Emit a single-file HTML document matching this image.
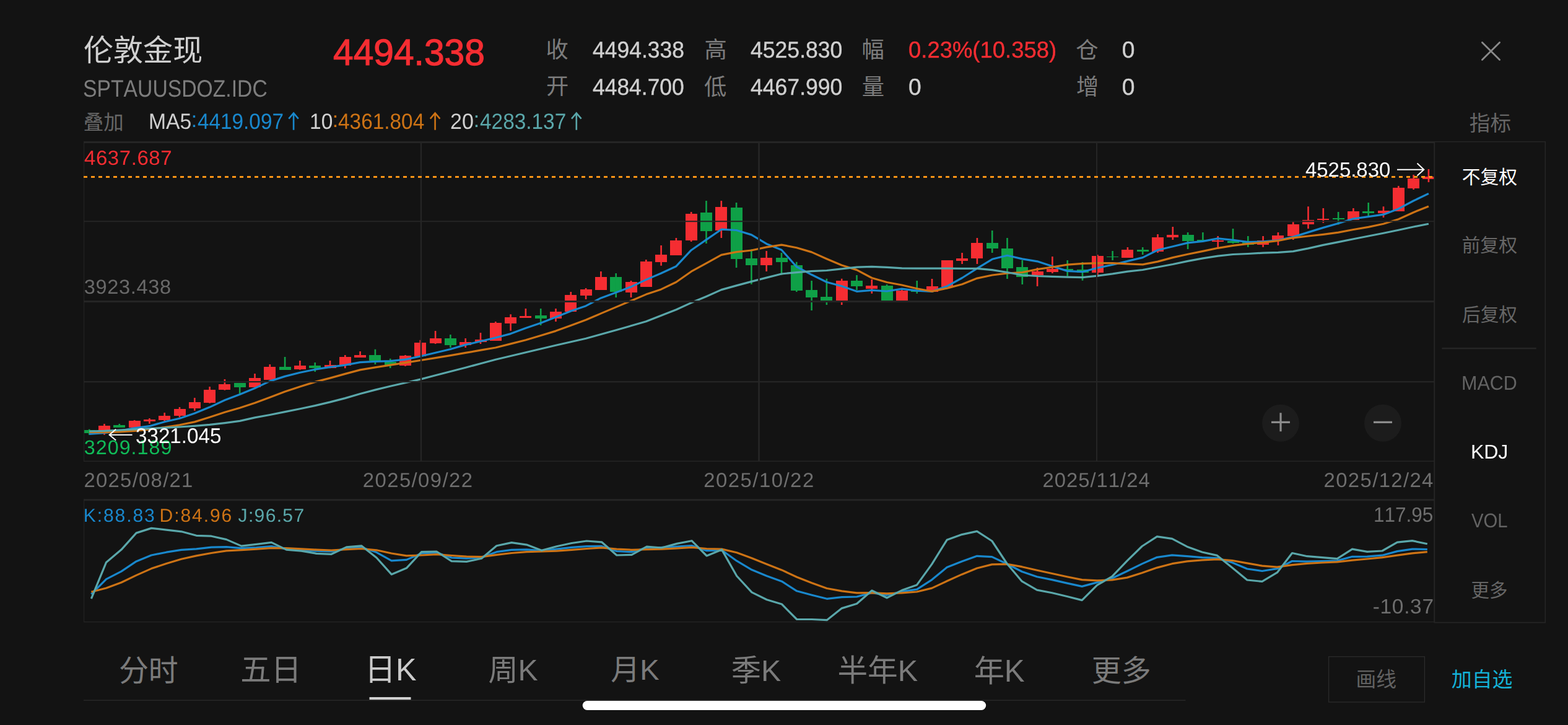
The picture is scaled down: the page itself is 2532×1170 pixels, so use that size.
<!DOCTYPE html>
<html lang="zh"><head><meta charset="utf-8"><title>伦敦金现 SPTAUUSDOZ.IDC</title>
<style>
html,body{margin:0;padding:0;background:#131313}
body{width:2532px;height:1170px;position:relative;overflow:hidden;font-family:"Liberation Sans",sans-serif}
.t{position:absolute;white-space:nowrap;line-height:1;text-rendering:geometricPrecision;font-kerning:none;transform-origin:0 0}
#tx{position:absolute;left:0;top:0;width:2532px;height:1170px;will-change:transform}
svg{position:absolute;left:0;top:0}
svg text{font-family:"Liberation Sans","Noto Sans CJK SC",sans-serif}
</style></head><body>
<svg width="2532" height="1170" viewBox="0 0 2532 1170">
<defs><clipPath id="cc"><rect x="135" y="231" width="2181" height="513"/></clipPath></defs>
<g clip-path="url(#cc)">
<path d="M159 687h19v11.6h-19zM207.6 678.7h19v11.6h-19zM231.9 677h19v3.3h-19zM256.2 671h19v7h-19zM280.5 660h19v11h-19zM304.8 649h19v9.8h-19zM329.1 628.7h19v21.2h-19zM353.4 620h19v9h-19zM402 610h19v14.9h-19zM426.3 592h19v21h-19zM474.9 590h19v5.9h-19zM523.5 588.8h19v5.4h-19zM547.8 575.9h19v13.8h-19zM572.1 573h19v3.9h-19zM645 574h19v16h-19zM669.3 552.8h19v22.2h-19zM693.6 545.9h19v7.9h-19zM742.2 552h19v5h-19zM766.5 548h19v4h-19zM790.8 520.9h19v29h-19zM815.1 511.9h19v10h-19zM839.4 510.1h19v2.8h-19zM888 503.1h19v10.9h-19zM912.3 475.8h19v27.3h-19zM936.6 467h19v10h-19zM960.9 446.9h19v21.2h-19zM1009.5 454.9h19v17h-19zM1033.8 421.9h19v41h-19zM1058.1 410.9h19v11.9h-19zM1082.4 388.1h19v24h-19zM1106.7 345h19v43.1h-19zM1155.3 333.9h19v38h-19zM1228.2 416h19v12h-19zM1349.7 453.2h19v31.5h-19zM1398.3 461h19v5h-19zM1446.9 469h19v16h-19zM1495.5 461.9h19v9h-19zM1519.8 419.9h19v42.7h-19zM1544.1 417h19v3.9h-19zM1568.4 392h19v25h-19zM1665.6 438h19v6h-19zM1689.9 434h19v5h-19zM1762.8 413h19v27h-19zM1811.4 402.8h19v13.1h-19zM1860 383h19v23h-19zM1884.3 378.8h19v4.2h-19zM1957.2 388h19v2h-19zM2030.1 388.3h19v6.4h-19zM2054.4 380h19v8.3h-19zM2078.7 361.9h19v19.1h-19zM2103 355h19v6.9h-19zM2127.3 353h19v2h-19zM2175.9 341.1h19v13.9h-19zM2224.5 340h19v4.1h-19zM2248.8 303.1h19v38h-19zM2273.1 288h19v16h-19zM2297.4 285h19v4h-19z" fill="#f52d32" shape-rendering="crispEdges"/>
<path d="M134.7 693.8h19v5.2h-19zM183.3 686.2h19v3.8h-19zM377.7 618h19v6.9h-19zM450.6 591.9h19v4.9h-19zM499.2 590h19v4.2h-19zM596.4 573h19v9h-19zM620.7 584h19v5.1h-19zM717.9 545.9h19v10.9h-19zM863.7 509.1h19v4.9h-19zM985.2 446.9h19v24h-19zM1131 343h19v29.9h-19zM1179.6 335.1h19v82.9h-19zM1203.9 417h19v11h-19zM1252.5 416h19v6.8h-19zM1276.8 428h19v41h-19zM1301.1 468.1h19v11.6h-19zM1325.4 479.2h19v5.5h-19zM1374 452.9h19v9h-19zM1422.6 461h19v24h-19zM1471.2 468h19v2.5h-19zM1592.7 392h19v9h-19zM1617 401h19v32h-19zM1641.3 430.9h19v16h-19zM1714.2 434h19v1.6h-19zM1738.5 435h19v5h-19zM1787.1 413.7h19v1.6h-19zM1835.7 402.8h19v3.2h-19zM1908.6 378.8h19v10.2h-19zM1932.9 387h19v2h-19zM1981.5 389.2h19v2.8h-19zM2005.8 391.3h19v3.4h-19zM2151.6 352h19v2.1h-19zM2200.2 341.1h19v3h-19z" fill="#0fa047" shape-rendering="crispEdges"/>
<path d="M167.2 684h2.6v17.8h-2.6zM215.8 678h2.6v14.8h-2.6zM240.1 675h2.6v8.8h-2.6zM264.4 666h2.6v13.4h-2.6zM288.7 657h2.6v16.6h-2.6zM313 642h2.6v20.7h-2.6zM337.3 624h2.6v26.8h-2.6zM361.6 612h2.6v17.7h-2.6zM410.2 603h2.6v21.9h-2.6zM434.5 588h2.6v25h-2.6zM483.1 582h2.6v14.8h-2.6zM531.7 582h2.6v12.2h-2.6zM556 573h2.6v21.2h-2.6zM580.3 566.9h2.6v10h-2.6zM653.2 573h2.6v18h-2.6zM677.5 548.7h2.6v26.3h-2.6zM701.8 534h2.6v20.9h-2.6zM750.4 545.9h2.6v15h-2.6zM774.7 537h2.6v17.9h-2.6zM799 519h2.6v30.9h-2.6zM823.3 507.2h2.6v26.6h-2.6zM847.6 498h2.6v14.9h-2.6zM896.2 498h2.6v21h-2.6zM920.5 471h2.6v32.1h-2.6zM944.8 464.9h2.6v18.1h-2.6zM969.1 438h2.6v30.1h-2.6zM1017.7 453h2.6v27h-2.6zM1042 419h2.6v43.9h-2.6zM1066.3 396h2.6v32.8h-2.6zM1090.6 384h2.6v28.1h-2.6zM1114.9 342h2.6v48h-2.6zM1163.5 324h2.6v60h-2.6zM1236.4 404.9h2.6v33h-2.6zM1357.9 449.8h2.6v42.2h-2.6zM1406.5 451h2.6v22.8h-2.6zM1455.1 468h2.6v17h-2.6zM1503.7 450h2.6v20.9h-2.6zM1528 419.9h2.6v42.7h-2.6zM1552.3 408h2.6v18h-2.6zM1576.6 384h2.6v42h-2.6zM1673.8 432h2.6v29.9h-2.6zM1698.1 414h2.6v26.9h-2.6zM1771 410.9h2.6v35.9h-2.6zM1819.6 399h2.6v16.9h-2.6zM1868.2 378h2.6v30h-2.6zM1892.5 366h2.6v21h-2.6zM1965.4 381h2.6v18h-2.6zM2038.3 381h2.6v17.8h-2.6zM2062.6 375.1h2.6v20.9h-2.6zM2086.9 358.2h2.6v28.7h-2.6zM2111.2 333.2h2.6v35.9h-2.6zM2135.5 335.9h2.6v23.9h-2.6zM2184.1 335.9h2.6v19.1h-2.6zM2232.7 333.2h2.6v17.7h-2.6zM2257 300.1h2.6v41h-2.6zM2281.3 281.9h2.6v24.2h-2.6zM2305.6 273h2.6v20.9h-2.6z" fill="#f52d32"/>
<path d="M142.9 692.8h2.6v9h-2.6zM191.5 684h2.6v6h-2.6zM385.9 618h2.6v17h-2.6zM458.8 575.9h2.6v20.9h-2.6zM507.4 584.9h2.6v15.1h-2.6zM604.6 563.8h2.6v24.2h-2.6zM628.9 578.8h2.6v15.2h-2.6zM726.1 540h2.6v20.9h-2.6zM871.9 498h2.6v26.9h-2.6zM993.4 440.9h2.6v39.1h-2.6zM1139.2 324h2.6v68.9h-2.6zM1187.8 327.1h2.6v104.8h-2.6zM1212.1 402.3h2.6v56.4h-2.6zM1260.7 408h2.6v35.8h-2.6zM1285 422.8h2.6v48.2h-2.6zM1309.3 453.1h2.6v47.8h-2.6zM1333.6 449.8h2.6v42.2h-2.6zM1382.2 444h2.6v24.3h-2.6zM1430.8 459h2.6v26h-2.6zM1479.4 453h2.6v20.8h-2.6zM1600.9 371.9h2.6v36.1h-2.6zM1625.2 384h2.6v66h-2.6zM1649.5 419.9h2.6v39.1h-2.6zM1722.4 420h2.6v25.8h-2.6zM1746.7 423h2.6v29.8h-2.6zM1795.3 405h2.6v14.9h-2.6zM1843.9 399h2.6v11.9h-2.6zM1916.8 374.9h2.6v27h-2.6zM1941.1 374.9h2.6v14.1h-2.6zM1989.7 369.1h2.6v23.8h-2.6zM2014 381h2.6v17.8h-2.6zM2159.8 342h2.6v20.6h-2.6zM2208.4 327h2.6v20.9h-2.6z" fill="#0fa047"/>
<polyline points="144.2,700.5 168.5,698.6 192.8,695.4 217.1,690.9 241.4,687.7 265.7,680.7 290,675.3 314.3,667.1 338.6,657.1 362.9,645.7 387.2,636.5 411.5,626.5 435.8,615.1 460.1,607.4 484.4,601.3 508.7,596.2 533,592.3 557.3,589.1 581.6,584.6 605.9,583.3 630.2,582.7 654.5,580.1 678.8,575 703.1,569.2 727.4,563.5 751.7,556.4 776,550.8 800.3,545 824.6,538.6 848.9,529.6 873.2,521.3 897.5,511.7 921.8,502 946.1,493.7 970.4,480.9 994.7,471.9 1019,462.9 1043.3,451.4 1067.6,441 1091.9,429.7 1116.2,403.7 1140.5,386.9 1164.8,370.2 1189.1,371.5 1213.4,378.9 1237.7,393.4 1262,403.2 1286.3,430.5 1310.6,443.3 1334.9,455.3 1359.2,461.7 1383.5,470.3 1407.8,468.3 1432.1,470 1456.4,466.2 1480.7,469.2 1505,470.5 1529.3,461.9 1553.6,448.5 1577.9,433.1 1602.2,418.3 1626.5,412.3 1650.8,417.9 1675.1,421.8 1699.4,429.7 1723.7,437.4 1748,438.7 1772.3,432.3 1796.6,427.2 1820.9,421.4 1845.2,415.6 1869.5,403.5 1893.8,397.7 1918.1,391.9 1942.4,389.4 1966.7,384.9 1991,387.3 2015.3,390.6 2039.6,389.9 2063.9,387.9 2088.2,382.4 2112.5,374.9 2136.8,367.4 2161.1,360.5 2185.4,353 2209.7,349.6 2234,346.2 2258.3,336.9 2282.6,324 2306.9,312.4" fill="none" stroke="#1988cd" stroke-width="3.2" stroke-linejoin="round" stroke-linecap="butt"/>
<polyline points="144.2,697.3 168.5,697.7 192.8,696.9 217.1,695.4 241.4,692.8 265.7,689.6 290,685.8 314.3,680.9 338.6,673.2 362.9,665.3 387.2,658.2 411.5,650.3 435.8,641.3 460.1,632 484.4,624 508.7,616.4 533,610.1 557.3,603.4 581.6,596.9 605.9,592.8 630.2,589.2 654.5,585.4 678.8,581.5 703.1,577.6 727.4,573.7 751.7,569.4 776,565.2 800.3,561 824.6,554.9 848.9,548.8 873.2,541.5 897.5,534.1 921.8,525.2 946.1,516.2 970.4,505.9 994.7,495.6 1019,485.4 1043.3,475.1 1067.6,466.9 1091.9,455.3 1116.2,438.2 1140.5,424.9 1164.8,411.4 1189.1,406.6 1213.4,404 1237.7,398.9 1262,395.1 1286.3,399.7 1310.6,406.9 1334.9,417.7 1359.2,428 1383.5,435.6 1407.8,448.5 1432.1,455.5 1456.4,460 1480.7,465.8 1505,470.3 1529.3,465.1 1553.6,458.7 1577.9,449.1 1602.2,444 1626.5,441 1650.8,439.5 1675.1,434.6 1699.4,431 1723.7,427.2 1748,425.3 1772.3,424.6 1796.6,424.6 1820.9,425.9 1845.2,426.9 1869.5,422.1 1893.8,415.6 1918.1,410.3 1942.4,405.4 1966.7,400.3 1991,396.3 2015.3,393.3 2039.6,391.3 2063.9,388.5 2088.2,383.8 2112.5,381 2136.8,378.3 2161.1,375.1 2185.4,370.5 2209.7,366.4 2234,361.2 2258.3,353.7 2282.6,342.7 2306.9,332.9" fill="none" stroke="#cd7315" stroke-width="3.2" stroke-linejoin="round" stroke-linecap="butt"/>
<polyline points="144.2,696 168.5,695.4 192.8,694.1 217.1,692.8 241.4,691.5 265.7,690.3 290,689 314.3,687.4 338.6,685.4 362.9,682.6 387.2,679.4 411.5,673.9 435.8,669.5 460.1,664.6 484.4,659.8 508.7,654.6 533,648.9 557.3,642.6 581.6,635.5 605.9,629.1 630.2,623.3 654.5,617.8 678.8,612.1 703.1,605.8 727.4,599.5 751.7,593.3 776,586.7 800.3,580.2 824.6,574.5 848.9,568.7 873.2,563 897.5,557.2 921.8,551.8 946.1,546.3 970.4,539.5 994.7,532.8 1019,525.8 1043.3,518.7 1067.6,509.2 1091.9,499.7 1116.2,488.6 1140.5,478.4 1164.8,467.6 1189.1,460.9 1213.4,454.4 1237.7,448.1 1262,442 1286.3,439.6 1310.6,437.7 1334.9,436.5 1359.2,433.9 1383.5,431.2 1407.8,430.3 1432.1,431.4 1456.4,432.8 1480.7,433.1 1505,433.1 1529.3,433.1 1553.6,433.3 1577.9,433.3 1602.2,435.6 1626.5,439.5 1650.8,444 1675.1,445.5 1699.4,446.4 1723.7,447.1 1748,447.7 1772.3,445.1 1796.6,441.9 1820.9,438.1 1845.2,435.5 1869.5,431 1893.8,426.5 1918.1,421.4 1942.4,416.9 1966.7,413.1 1991,410.5 2015.3,409.5 2039.6,408.1 2063.9,407.4 2088.2,405.6 2112.5,400.9 2136.8,395.4 2161.1,390.6 2185.4,385.8 2209.7,381 2234,376.2 2258.3,371.2 2282.6,366 2306.9,361.2" fill="none" stroke="#5aa7aa" stroke-width="3.2" stroke-linejoin="round" stroke-linecap="butt"/>
</g>
<path d="M135 228h2182v3h-2182zM135 356.2h2182v2.1h-2182zM135 485h2182v3h-2182zM135 614.9h2182v2.3h-2182zM135 743.5h2182v1.6h-2182zM678.8 228h2.3v517h-2.3zM1224.1 228h2.8v517h-2.8zM1770 228h2v517h-2zM135.1 228h1.1v517h-1.1zM2315.2 228h2v777h-2zM135 805.3h2182v3h-2182zM135 1003h2182v1.3h-2182zM135.1 806h1.1v198h-1.1zM2316 228h180v1.6h-180zM2494.5 228h1.6v777h-1.6zM2316 1003.8h180v1.6h-180zM2328.4 561h152.3v2.4h-152.3z" fill="#252525"/>
<path d="M135 285.6H2316" stroke="#ff9416" stroke-width="3" stroke-dasharray="6 6" fill="none"/>
<polyline points="147.4,958.9 171.6,934.6 195.9,922.1 220.1,905.9 244.4,896 268.6,891.2 292.8,887.4 317.1,885.8 341.3,883.1 365.6,882.6 389.8,884.7 414,883.5 438.3,881.7 462.5,885.8 486.8,888 511,889.2 535.2,889.8 559.5,885.5 583.7,883.4 608,891.3 632.2,904.8 656.4,903.4 680.7,893 704.9,891.8 729.2,900 753.4,901.2 777.6,899.4 801.9,890.7 826.1,887.3 850.4,886.9 874.6,888.7 898.8,886.1 923.1,883.4 947.3,881.7 971.6,881.4 995.8,889.5 1020,890.7 1044.3,884 1068.5,883.4 1092.8,882.1 1117,880.5 1141.2,888.7 1165.5,887.8 1189.7,905.2 1214,919.6 1238.2,929.5 1262.4,938.2 1286.7,953.8 1310.9,960.3 1335.2,966.3 1359.4,963.7 1383.6,963 1407.9,956.6 1432.1,960.3 1456.4,954.7 1480.6,951.2 1504.8,935.6 1529.1,915.6 1553.3,906 1577.6,897.3 1601.8,898.6 1626,910 1650.3,922.5 1674.5,930.7 1698.8,935.6 1723,941.1 1747.2,946.4 1771.5,939.9 1795.7,933.3 1820,921.7 1844.2,909.9 1868.4,899.3 1892.7,895.8 1916.9,897.7 1941.2,899.7 1965.4,900.6 1989.6,907.8 2013.9,918 2038.1,921.5 2062.4,917.7 2086.6,905.5 2110.8,906.1 2135.1,905.5 2159.3,904.9 2183.6,898.3 2207.8,898.1 2232,896.2 2256.3,889.6 2280.5,886.1 2304.8,886.5" fill="none" stroke="#1988cd" stroke-width="3.2" stroke-linejoin="round" stroke-linecap="butt"/>
<polyline points="147.4,955.3 171.6,949 195.9,940 220.1,928.4 244.4,917.6 268.6,909.5 292.8,902.3 317.1,896.9 341.3,892.5 365.6,888.9 389.8,887.6 414,886.2 438.3,884.4 462.5,884.7 486.8,885.8 511,887.1 535.2,888 559.5,886.6 583.7,885.5 608,887.8 632.2,893 656.4,896.8 680.7,896 704.9,894.7 729.2,896.5 753.4,898.2 777.6,898.7 801.9,895.3 826.1,892.5 850.4,890.7 874.6,890 898.8,889.2 923.1,887.3 947.3,885.5 971.6,883.8 995.8,886.1 1020,887.3 1044.3,886.6 1068.5,886.1 1092.8,884.8 1117,883.4 1141.2,885.5 1165.5,886.1 1189.7,891.8 1214,900.8 1238.2,910.4 1262.4,919.9 1286.7,931.2 1310.9,940.8 1335.2,949.5 1359.4,953.8 1383.6,956.8 1407.9,956.6 1432.1,957.8 1456.4,956.8 1480.6,955 1504.8,949.1 1529.1,937.8 1553.3,926.9 1577.6,917 1601.8,910.9 1626,910.4 1650.3,914.7 1674.5,920.3 1698.8,925.5 1723,930.7 1747.2,935.6 1771.5,936.8 1795.7,935.9 1820,932.1 1844.2,924.5 1868.4,916.1 1892.7,909.7 1916.9,905.9 1941.2,903.9 1965.4,902.6 1989.6,904.5 2013.9,908.9 2038.1,913.2 2062.4,915.1 2086.6,911.7 2110.8,909.3 2135.1,908 2159.3,906.8 2183.6,904.1 2207.8,902 2232,899.7 2256.3,896.2 2280.5,892.9 2304.8,890.6" fill="none" stroke="#cd7315" stroke-width="3.2" stroke-linejoin="round" stroke-linecap="butt"/>
<polyline points="147.4,966.1 171.6,907.4 195.9,887.1 220.1,860.1 244.4,852.4 268.6,855.1 292.8,857.8 317.1,864.3 341.3,865.2 365.6,870.6 389.8,881.1 414,878.3 438.3,875.4 462.5,887.1 486.8,889.2 511,893.4 535.2,894.3 559.5,882.9 583.7,880.8 608,900 632.2,926.9 656.4,916.8 680.7,890.7 704.9,890 729.2,905.7 753.4,906.4 777.6,901.2 801.9,880.8 826.1,875.6 850.4,879.1 874.6,888.3 898.8,881.7 923.1,876.5 947.3,873 971.6,874.8 995.8,896 1020,895.3 1044.3,882.2 1068.5,884 1092.8,877.4 1117,872.7 1141.2,897 1165.5,886.9 1189.7,929.5 1214,955.9 1238.2,967.7 1262.4,975 1286.7,999.5 1310.9,999.5 1335.2,1000.7 1359.4,981.6 1383.6,974.2 1407.9,953 1432.1,964.8 1456.4,952.6 1480.6,943.9 1504.8,910.4 1529.1,871.3 1553.3,862.6 1577.6,857.4 1601.8,873 1626,909.5 1650.3,938.2 1674.5,952.1 1698.8,956.8 1723,962.5 1747.2,968.6 1771.5,944.3 1795.7,930.4 1820,905.2 1844.2,881.5 1868.4,865.8 1892.7,869.3 1916.9,882.2 1941.2,891 1965.4,896.4 1989.6,916.1 2013.9,936 2038.1,938.4 2062.4,923.9 2086.6,892.5 2110.8,897.7 2135.1,899.7 2159.3,901.6 2183.6,886.1 2207.8,890.4 2232,889 2256.3,875.1 2280.5,872.6 2304.8,877.8" fill="none" stroke="#5aa7aa" stroke-width="3.2" stroke-linejoin="round" stroke-linecap="butt"/>
<circle cx="2068" cy="682.8" r="30" fill="#1c1c1c"/><circle cx="2233" cy="682.8" r="30" fill="#1c1c1c"/>
<path d="M2053 681.3h30M2068 666.3v30M2218 681.3h30" stroke="#8c8c8c" stroke-width="3.2" fill="none"/>
<path d="M2256 273.7H2299M2288.5 263.5L2299.3 273.7L2288.5 283.5" stroke="#fff" stroke-width="2" fill="none"/>
<path d="M213.6 701.8H177M187.2 692.8L176.6 701.8L187.2 710.6" stroke="#fff" stroke-width="2" fill="none"/>
<path d="M474.1 209.8V182.6M466.3 191.6L474.1 182.4L481.8 191.6" stroke="#1988cd" stroke-width="2.6" fill="none"/>
<path d="M702.6 209.8V182.6M694.8 191.6L702.6 182.4L710.4 191.6" stroke="#cd7315" stroke-width="2.6" fill="none"/>
<path d="M930.8 209.8V182.6M923 191.6L930.8 182.4L938.6 191.6" stroke="#5aa7aa" stroke-width="2.6" fill="none"/>
<path d="M2393.4 68.4L2421.6 96.6M2421.6 68.4L2393.4 96.6" stroke="#8a8a8a" stroke-width="2.8" stroke-linecap="round" fill="none"/>
<rect x="596.5" y="1125" width="67" height="4.5" fill="#d0d0d0"/>
<rect x="940.7" y="1131" width="651.5" height="15" rx="7.5" fill="#fff" stroke="#080808" stroke-width="1.2" paint-order="stroke"/>
<path d="M135 1130.05H1914.5" stroke="#252525" stroke-width="1.8" fill="none"/>
<rect x="2145.6" y="1059.7" width="154.8" height="73.3" fill="none" stroke="#2b2b2b" stroke-width="1.3"/>
<text x="135.1" y="98.17" font-size="48.03" fill="#d0d0d0">伦敦金现</text>
<text x="881.6" y="93.18" font-size="36.3" fill="#7c7c7c">收</text>
<text x="1137.42" y="93.27" font-size="36.3" fill="#7c7c7c">高</text>
<text x="1391.57" y="93.18" font-size="36.3" fill="#7c7c7c">幅</text>
<text x="1737.16" y="93.68" font-size="36.3" fill="#7c7c7c">仓</text>
<text x="882.03" y="151.94" font-size="36.3" fill="#7c7c7c">开</text>
<text x="1137.1" y="153.09" font-size="36.3" fill="#7c7c7c">低</text>
<text x="1391.86" y="153.07" font-size="36.3" fill="#7c7c7c">量</text>
<text x="1737.89" y="153.28" font-size="36.3" fill="#7c7c7c">增</text>
<text x="134.75" y="208.82" font-size="32.49" fill="#666666">叠加</text>
<text x="2372.86" y="211.08" font-size="33.59" fill="#666666">指标</text>
<text x="2360.69" y="295.84" font-size="29.79" fill="#fff">不复权</text>
<text x="2360.42" y="406.35" font-size="29.88" fill="#666666">前复权</text>
<text x="2361.05" y="517.75" font-size="29.67" fill="#666666">后复权</text>
<text x="2375.62" y="963.3" font-size="29.47" fill="#666666">更多</text>
<text x="191.89" y="1098.79" font-size="47.97" fill="#7b7b7b">分时</text>
<text x="388.24" y="1098.07" font-size="49.27" fill="#7b7b7b">五日</text>
<text x="588.85" y="1098.42" font-size="50.27" fill="#cbcbcb">日K</text>
<text x="788.41" y="1097.75" font-size="48.17" fill="#7b7b7b">周K</text>
<text x="986.13" y="1097.38" font-size="47.12" fill="#7b7b7b">月K</text>
<text x="1180.66" y="1099.09" font-size="48.32" fill="#7b7b7b">季K</text>
<text x="1352.42" y="1099.34" font-size="48.67" fill="#7b7b7b">半年K</text>
<text x="1572.64" y="1099.56" font-size="49.25" fill="#7b7b7b">年K</text>
<text x="1762.75" y="1098.98" font-size="47.97" fill="#7b7b7b">更多</text>
<text x="2189.45" y="1107.87" font-size="32.73" fill="#626262">画线</text>
<text x="2343.78" y="1107.92" font-size="32.91" fill="#14b2d8">加自选</text>
</svg>
<div id="tx">
<div class="t" style="left:134.27px;top:125px;font-size:38.52px;color:#7d7d7d;transform:scaleX(0.8752);">SPTAUUSDOZ.IDC</div>
<div class="t" style="left:537.65px;top:55px;font-size:59.74px;color:#f52d32;transform:scaleX(0.9829);-webkit-text-stroke:1.2px #f52d32;">4494.338</div>
<div class="t" style="left:957.09px;top:62px;font-size:37.21px;color:#d0d0d0;transform:scaleX(0.9533);-webkit-text-stroke:0.4px #d0d0d0;">4494.338</div>
<div class="t" style="left:1212.08px;top:62px;font-size:37.21px;color:#d0d0d0;transform:scaleX(0.9562);-webkit-text-stroke:0.4px #d0d0d0;">4525.830</div>
<div class="t" style="left:1466.98px;top:62px;font-size:37.21px;color:#f52d32;transform:scaleX(0.9799);-webkit-text-stroke:0.4px #f52d32;">0.23%(10.358)</div>
<div class="t" style="left:1811.75px;top:62px;font-size:37.21px;color:#d0d0d0;-webkit-text-stroke:0.4px #d0d0d0;">0</div>
<div class="t" style="left:957.09px;top:122px;font-size:37.21px;color:#d0d0d0;transform:scaleX(0.9523);-webkit-text-stroke:0.4px #d0d0d0;">4484.700</div>
<div class="t" style="left:1212.08px;top:122px;font-size:37.21px;color:#d0d0d0;transform:scaleX(0.9562);-webkit-text-stroke:0.4px #d0d0d0;">4467.990</div>
<div class="t" style="left:1466.95px;top:122px;font-size:37.21px;color:#d0d0d0;-webkit-text-stroke:0.4px #d0d0d0;">0</div>
<div class="t" style="left:1811.75px;top:122px;font-size:37.21px;color:#d0d0d0;-webkit-text-stroke:0.4px #d0d0d0;">0</div>
<div class="t" style="left:239.74px;top:179px;font-size:35.61px;color:#d0d0d0;transform:scaleX(0.9447);">MA5</div>
<div class="t" style="left:308.55px;top:176px;font-size:35.61px;color:#1988cd;">:</div>
<div class="t" style="left:318.84px;top:179px;font-size:35.61px;color:#1988cd;transform:scaleX(0.9355);">4419.097</div>
<div class="t" style="left:499.75px;top:179px;font-size:35.61px;color:#d0d0d0;transform:scaleX(0.9407);">10</div>
<div class="t" style="left:536.55px;top:176px;font-size:35.61px;color:#cd7315;">:</div>
<div class="t" style="left:546.43px;top:179px;font-size:35.61px;color:#cd7315;transform:scaleX(0.9375);">4361.804</div>
<div class="t" style="left:727.49px;top:179px;font-size:35.61px;color:#d0d0d0;transform:scaleX(0.9553);">20</div>
<div class="t" style="left:764.55px;top:176px;font-size:35.61px;color:#5aa7aa;">:</div>
<div class="t" style="left:774.63px;top:179px;font-size:35.61px;color:#5aa7aa;transform:scaleX(0.9375);">4283.137</div>
<div class="t" style="left:136.04px;top:238px;font-size:32.99px;color:#f52d32;letter-spacing:0.57px;">4637.687</div>
<div class="t" style="left:135.76px;top:447px;font-size:32.56px;color:#696969;letter-spacing:0.65px;">3923.438</div>
<div class="t" style="left:135.77px;top:706px;font-size:32.27px;color:#10bb58;letter-spacing:1.02px;">3209.189</div>
<div class="t" style="left:219.14px;top:687px;font-size:34.45px;color:#fff;transform:scaleX(0.9636);">3321.045</div>
<div class="t" style="left:2108.04px;top:258px;font-size:33.14px;color:#fff;transform:scaleX(0.9936);">4525.830</div>
<div class="t" style="left:135.45px;top:759px;font-size:32.85px;color:#6e6e6e;letter-spacing:1.29px;">2025/08/21</div>
<div class="t" style="left:585.85px;top:759px;font-size:32.85px;color:#6e6e6e;letter-spacing:1.42px;">2025/09/22</div>
<div class="t" style="left:1136.25px;top:759px;font-size:32.85px;color:#6e6e6e;letter-spacing:1.51px;">2025/10/22</div>
<div class="t" style="left:1683.55px;top:759px;font-size:32.85px;color:#6e6e6e;letter-spacing:0.98px;">2025/11/24</div>
<div class="t" style="left:2137.55px;top:759px;font-size:32.85px;color:#6e6e6e;letter-spacing:1.39px;">2025/12/24</div>
<div class="t" style="left:134.73px;top:818px;font-size:30.09px;color:#1988cd;letter-spacing:1.89px;">K:88.83</div>
<div class="t" style="left:257.53px;top:818px;font-size:30.09px;color:#cd7315;letter-spacing:1.9px;">D:84.96</div>
<div class="t" style="left:384.53px;top:818px;font-size:30.09px;color:#5aa7aa;letter-spacing:1.33px;">J:96.57</div>
<div class="t" style="left:2218.3px;top:815px;font-size:33.43px;color:#6e6e6e;transform:scaleX(0.9420);">117.95</div>
<div class="t" style="left:2216.81px;top:963px;font-size:33.43px;color:#6e6e6e;letter-spacing:0.68px;">-10.37</div>
<div class="t" style="left:2359.5px;top:602px;font-size:32.12px;color:#636363;transform:scaleX(0.9491);">MACD</div>
<div class="t" style="left:2374.97px;top:713px;font-size:32.12px;color:#fff;letter-spacing:-0.18px;">KDJ</div>
<div class="t" style="left:2376.17px;top:824px;font-size:32.12px;color:#636363;transform:scaleX(0.9118);">VOL</div>
</div>
</body></html>
